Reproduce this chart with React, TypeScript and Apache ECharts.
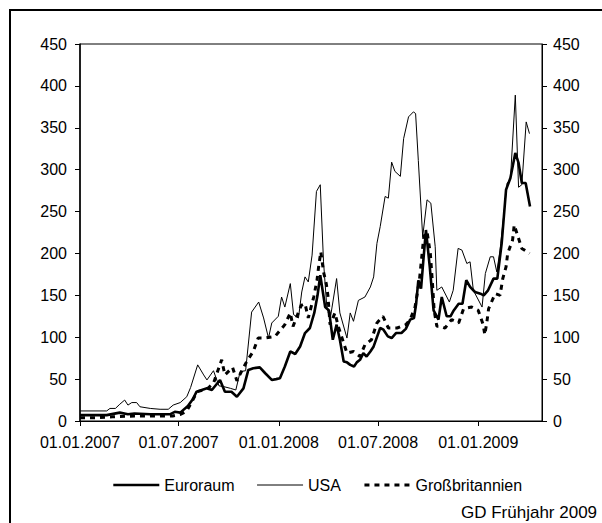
import React, { useEffect, useRef } from "react";
import * as echarts from "echarts";

const tickLabels = ["01.01.2007", "01.07.2007", "01.01.2008", "01.07.2008", "01.01.2009"];
const xMin = "2007-01-01";
const xMax = "2009-04-28";
const yTicks = [0, 50, 100, 150, 200, 250, 300, 350, 400, 450];

const euroDates = [
  "2007-01-01","2007-02-19","2007-03-15","2007-03-30","2007-04-11","2007-05-10","2007-06-15","2007-06-24","2007-07-04","2007-07-18",
  "2007-07-27","2007-08-03","2007-08-22","2007-08-31","2007-09-15","2007-09-24","2007-10-06","2007-10-16","2007-10-28","2007-11-06",
  "2007-11-15","2007-11-27","2007-12-07","2007-12-19","2007-12-27","2008-01-03","2008-01-12","2008-01-22","2008-01-31","2008-02-09",
  "2008-02-18","2008-02-27","2008-03-06","2008-03-12","2008-03-17","2008-03-26","2008-04-02","2008-04-09","2008-04-16","2008-04-22",
  "2008-04-29","2008-05-05","2008-05-11","2008-05-18","2008-05-23","2008-05-29","2008-06-04","2008-06-10","2008-06-17","2008-06-23",
  "2008-07-05","2008-07-11","2008-07-19","2008-07-26","2008-08-03","2008-08-13","2008-08-21","2008-08-29","2008-09-05","2008-09-09",
  "2008-09-13","2008-09-18","2008-09-22","2008-09-27","2008-10-04","2008-10-11","2008-10-20","2008-10-26","2008-11-04","2008-11-11",
  "2008-11-17","2008-11-26","2008-12-03","2008-12-10","2008-12-17","2008-12-26","2009-01-05","2009-01-11","2009-01-19","2009-01-29",
  "2009-02-05","2009-02-13","2009-02-21","2009-03-01","2009-03-10","2009-03-16","2009-03-22","2009-03-29","2009-04-06"
];
const euroValues = [
  7, 7, 10, 8, 9, 8, 8, 11, 10, 18,
  26, 35, 39, 37, 49, 35, 35, 29, 39, 61,
  63, 64, 57, 49, 50, 51, 65, 83, 80, 89,
  105, 111, 129, 150, 174, 136, 132, 97, 115, 97,
  71, 70, 67, 65, 70, 73, 81, 77, 83, 89,
  111, 109, 101, 99, 105, 105, 110, 121, 123, 140,
  168, 158, 190, 228, 184, 132, 121, 148, 125, 125,
  132, 140, 140, 168, 160, 154, 152, 150, 156, 170,
  170, 212, 276, 290, 320, 308, 284, 284, 256
];

const usaDates = [
  "2007-01-01","2007-02-19","2007-02-25","2007-03-07","2007-03-15","2007-03-24","2007-03-30","2007-04-06","2007-04-15","2007-04-21",
  "2007-05-10","2007-05-28","2007-06-12","2007-06-21","2007-07-04","2007-07-16","2007-07-23","2007-08-05","2007-08-16","2007-08-22",
  "2007-09-03","2007-09-13","2007-09-22","2007-10-04","2007-10-14","2007-10-22","2007-11-01","2007-11-12","2007-11-25","2007-12-04",
  "2007-12-13","2007-12-19","2007-12-31","2008-01-06","2008-01-12","2008-01-22","2008-01-28","2008-02-06","2008-02-12","2008-02-18",
  "2008-02-24","2008-03-02","2008-03-10","2008-03-17","2008-03-23","2008-03-29","2008-04-04","2008-04-16","2008-04-22","2008-05-05",
  "2008-05-11","2008-05-17","2008-05-26","2008-06-07","2008-06-17","2008-06-23","2008-06-29","2008-07-05","2008-07-14","2008-07-20",
  "2008-07-26","2008-08-01","2008-08-11","2008-08-17","2008-08-26","2008-09-04","2008-09-08","2008-09-13","2008-09-21","2008-09-29",
  "2008-10-06","2008-10-14","2008-10-17","2008-10-26","2008-11-09","2008-11-16","2008-11-25","2008-12-02","2008-12-11","2008-12-17",
  "2008-12-23","2009-01-08","2009-01-14","2009-01-23","2009-01-29","2009-02-04","2009-02-10","2009-02-23","2009-03-01","2009-03-10",
  "2009-03-16","2009-03-22","2009-03-30","2009-04-05"
];
const usaValues = [
  12, 12, 15, 15, 20, 25, 19, 22, 22, 17,
  15, 14, 14, 19, 22, 29, 40, 67, 55, 49,
  60, 42, 41, 39, 37, 59, 60, 130, 142, 123,
  99, 117, 125, 148, 136, 164, 127, 123, 154, 172,
  166, 198, 274, 282, 190, 136, 121, 170, 129, 99,
  129, 119, 144, 148, 160, 172, 212, 232, 268, 266,
  309, 298, 292, 337, 363, 369, 367, 311, 220, 264,
  260, 208, 156, 160, 142, 156, 206, 204, 188, 190,
  156, 136, 176, 196, 196, 178, 204, 284, 288, 389,
  279, 282, 357, 343
];

const gbDates = [
  "2007-01-01","2007-01-31","2007-03-02","2007-04-11","2007-05-21","2007-06-20","2007-07-05","2007-07-16","2007-07-27","2007-08-04",
  "2007-08-22","2007-09-03","2007-09-18","2007-09-24","2007-10-08","2007-10-16","2007-10-25","2007-11-03","2007-11-15","2007-11-24",
  "2007-12-07","2007-12-25","2008-01-03","2008-01-12","2008-01-22","2008-01-27","2008-02-11","2008-02-18","2008-02-24","2008-03-05",
  "2008-03-11","2008-03-14","2008-03-18","2008-03-23","2008-03-28","2008-03-31","2008-04-04","2008-04-13","2008-04-19","2008-04-25",
  "2008-05-05","2008-05-17","2008-05-29","2008-06-07","2008-06-19","2008-06-29","2008-07-10","2008-07-20","2008-08-05","2008-08-21",
  "2008-08-29","2008-09-07","2008-09-15","2008-09-23","2008-09-29","2008-10-05","2008-10-09","2008-10-12","2008-10-17","2008-10-24",
  "2008-11-01","2008-11-13","2008-11-26","2008-12-05","2008-12-20","2009-01-01","2009-01-10","2009-01-13","2009-01-17","2009-01-20",
  "2009-02-01","2009-02-10","2009-02-15","2009-02-21","2009-02-24","2009-03-05","2009-03-08","2009-03-14","2009-03-22","2009-03-29",
  "2009-04-05"
];
const gbValues = [
  4, 4, 5, 6, 6, 6, 8, 12, 25, 35,
  38, 45, 73, 55, 64, 48, 60, 71, 83, 99,
  99, 101, 108, 115, 129, 113, 138, 140, 123, 148,
  168, 184, 202, 178, 164, 150, 115, 129, 113, 101,
  81, 83, 77, 91, 97, 117, 125, 111, 111, 115,
  121, 136, 168, 220, 226, 200, 164, 132, 113, 113,
  111, 121, 117, 134, 136, 132, 115, 103, 119, 134,
  152, 150, 170, 184, 200, 216, 234, 222, 206, 203,
  200
];

const seriesNames = ["Euroraum", "USA", "Großbritannien"];
const sourceNote = "GD Frühjahr 2009";

const toTs = (s: string) => {
  const [y, m, d] = s.split("-").map(Number);
  return Date.UTC(y, m - 1, d);
};
const labelTs = (l: string) => {
  const [d, m, y] = l.split(".").map(Number);
  return Date.UTC(y, m - 1, d);
};
const pad = (n: number) => String(n).padStart(2, "0");
const fmt = (v: number) => {
  const dt = new Date(v);
  return `${pad(dt.getUTCDate())}.${pad(dt.getUTCMonth() + 1)}.${dt.getUTCFullYear()}`;
};
const zip = (ds: string[], vs: number[]) => ds.map((d, i) => [toTs(d), vs[i]]);

const FONT = "'Liberation Sans', Arial, sans-serif";

const lineStyles = [
  { color: "#000", width: 2.6, type: "solid" as const },
  { color: "#000", width: 1, type: "solid" as const },
  { color: "#000", width: 3, type: [5, 5] as any },
];

export default function App() {
  const ref = useRef<HTMLDivElement>(null);
  useEffect(() => {
    document.body.style.margin = "0";
    if (!ref.current) return;
    const chart = echarts.init(ref.current, undefined, { renderer: "svg" });
    const ticks = tickLabels.map(labelTs);
    const yAxisCommon = {
      type: "value",
      min: yTicks[0],
      max: yTicks[yTicks.length - 1],
      interval: 50,
      splitLine: { show: false },
      axisTick: { show: true, length: 5, lineStyle: { color: "#000" } },
      axisLabel: { color: "#000", fontSize: 16, fontFamily: FONT },
    };
    chart.setOption({
      animation: false,
      backgroundColor: "#fff",
      textStyle: { fontFamily: FONT, color: "#000" },
      grid: { left: 80, right: 60, top: 44, bottom: 102, show: true, borderColor: "#000", borderWidth: 1, backgroundColor: "transparent" },
      xAxis: {
        type: "value",
        min: toTs(xMin),
        max: toTs(xMax),
        splitLine: { show: false },
        axisLine: { lineStyle: { color: "#000", width: 1 } },
        axisTick: { show: true, length: 5, customValues: ticks, lineStyle: { color: "#000" } },
        axisLabel: { customValues: ticks, formatter: (v: number) => fmt(v), color: "#000", fontSize: 16, fontFamily: FONT, margin: 13 },
      },
      yAxis: [
        { ...yAxisCommon, position: "left", axisLine: { show: true, lineStyle: { color: "#000", width: 1.5 } }, axisLabel: { ...yAxisCommon.axisLabel, margin: 13 } },
        { ...yAxisCommon, position: "right", axisLine: { show: true, lineStyle: { color: "#000", width: 1 } }, axisLabel: { ...yAxisCommon.axisLabel, margin: 11 } },
      ],
      legend: {
        left: 112,
        top: 477,
        padding: 0,
        itemWidth: 46,
        itemHeight: 16,
        itemGap: 22,
        data: seriesNames.map((n, i) => ({ name: n, lineStyle: lineStyles[i], itemStyle: { opacity: 0 } })),
        itemStyle: { opacity: 0 },
        textStyle: { color: "#000", fontSize: 16, fontFamily: FONT },
      },
      graphic: [
        { type: "rect", shape: { x: 10, y: 10, width: 700, height: 700 }, style: { fill: "none", stroke: "#000", lineWidth: 2 }, silent: true },
        { type: "text", x: 461, y: 512, style: { text: sourceNote, fontSize: 17, fontFamily: FONT, fill: "#000", verticalAlign: "middle" } },
      ],
      series: [
        { name: seriesNames[0], type: "line", yAxisIndex: 0, data: zip(euroDates, euroValues), symbol: "none", lineStyle: lineStyles[0], itemStyle: { color: "#000" }, z: 4 },
        { name: seriesNames[1], type: "line", yAxisIndex: 0, data: zip(usaDates, usaValues), symbol: "none", lineStyle: lineStyles[1], itemStyle: { color: "#000" }, z: 3 },
        { name: seriesNames[2], type: "line", yAxisIndex: 0, data: zip(gbDates, gbValues), symbol: "none", lineStyle: lineStyles[2], itemStyle: { color: "#000" }, z: 2 },
      ],
    });
    return () => chart.dispose();
  }, []);
  return <div ref={ref} style={{ width: 602, height: 523 }} />;
}
